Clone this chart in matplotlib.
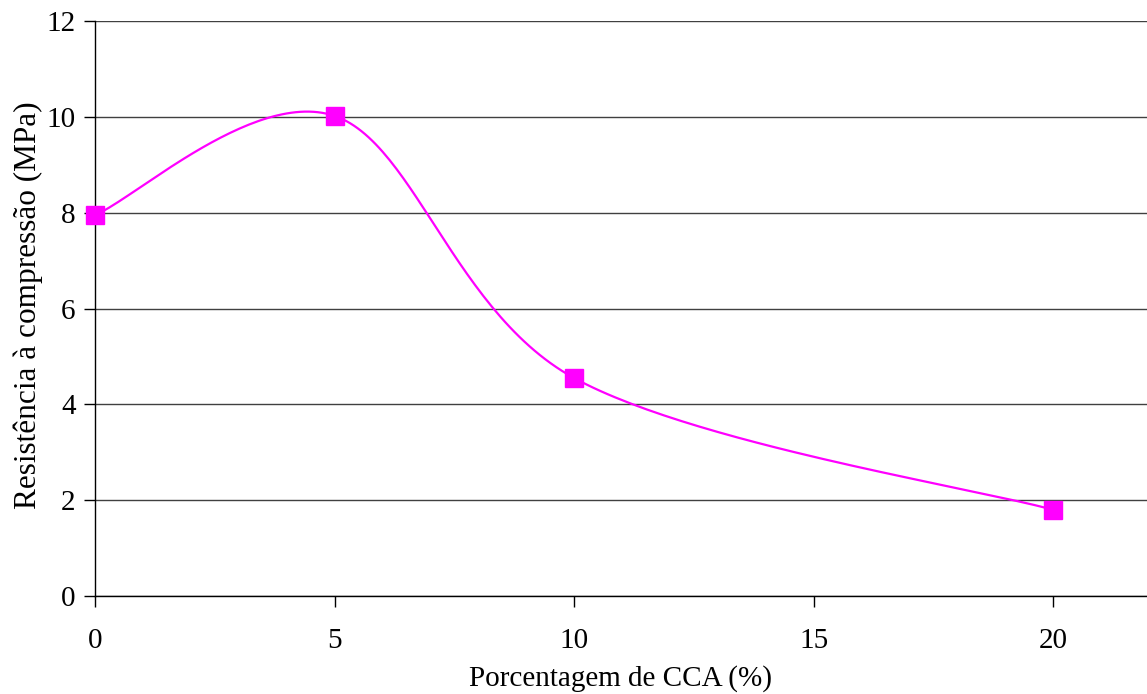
import numpy as np
import matplotlib
matplotlib.use("Agg")
import matplotlib.pyplot as plt

x_cca = [0, 5, 10, 20]
resist = [7.95, 10.02, 4.55, 1.8]
y_ticks = [0, 2, 4, 6, 8, 10, 12]
x_ticks = [0, 5, 10, 15, 20]

plt.rcParams['font.family'] = ['Liberation Serif', 'DejaVu Serif']

def smooth(xs, ys, n=60):
    P = np.column_stack([xs, ys]).astype(float)
    out = [P[0]]
    m = len(P)
    for i in range(m - 1):
        p0 = P[max(i - 1, 0)]
        p1 = P[i]
        p2 = P[i + 1]
        p3 = P[min(i + 2, m - 1)]
        c1 = p1 + (p2 - p0) / 6.0
        c2 = p2 - (p3 - p1) / 6.0
        t = np.linspace(0, 1, n)[1:, None]
        b = ((1 - t) ** 3) * p1 + 3 * ((1 - t) ** 2) * t * c1 + 3 * (1 - t) * t ** 2 * c2 + t ** 3 * p2
        out.extend(b)
    out = np.array(out)
    return out[:, 0], out[:, 1]

fig = plt.figure(figsize=(11.47, 6.94), dpi=100)
ax = fig.add_axes([0.0828, 0.1412, 0.9172, 0.8285])

sx, sy = smooth(x_cca, resist)
ax.plot(sx, sy, color='#FF00FF', lw=1.6, zorder=3)
ax.plot(x_cca, resist, ls='none', marker='s', ms=12.5, color='#FF00FF', zorder=4, clip_on=False)

ax.set_xlim(0, 21.96)
ax.set_ylim(0, 12)
ax.set_xticks(x_ticks)
ax.set_yticks(y_ticks)
ax.yaxis.grid(True, color='#404040', lw=1)
ax.set_axisbelow(True)
for s in ['top', 'right']:
    ax.spines[s].set_visible(False)
for s in ['left', 'bottom']:
    ax.spines[s].set_color('black')
    ax.spines[s].set_linewidth(1)
ax.tick_params(axis='both', direction='out', length=8, width=1, labelsize=21, colors='black')
ax.tick_params(axis='x', pad=15)
ax.tick_params(axis='y', pad=6)
ax.set_xlabel('Porcentagem de CCA (%)', fontsize=21, labelpad=8)
ax.set_ylabel('Resistência à compressão (MPa)', fontsize=22.5)
ax.yaxis.set_label_coords(-0.0635, 0.505)
ax.yaxis.label.set_va('center')

fig.savefig('out.png', dpi=100)
